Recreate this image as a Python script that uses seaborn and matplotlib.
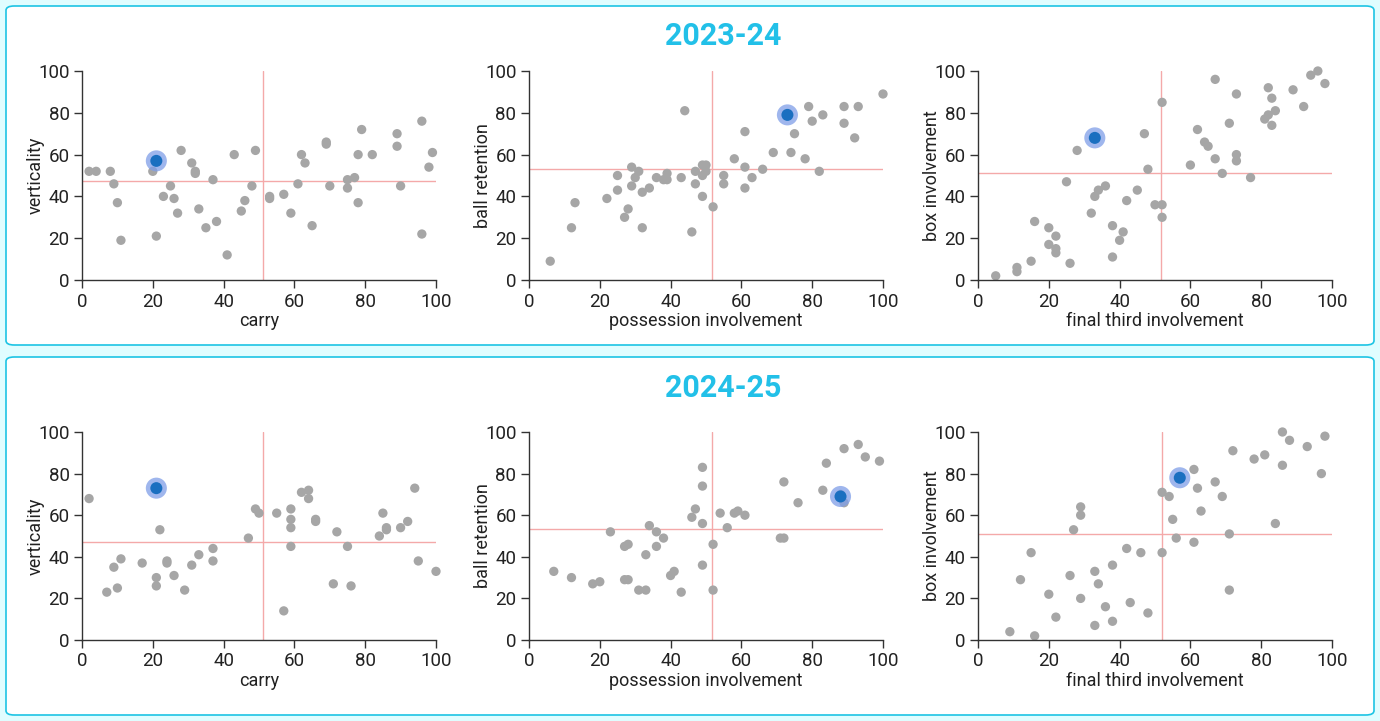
import matplotlib
matplotlib.use("Agg")
import matplotlib.pyplot as plt
import seaborn as sns
import pandas as pd
from matplotlib.patches import FancyBboxPatch

# ---- данные 2023-24 ----
carry_23 = [2, 4, 8, 9, 10, 11, 20, 21, 23, 25, 26, 27, 28, 31, 32, 32, 33, 35, 37, 38,
            41, 43, 45, 46, 48, 49, 53, 53, 57, 59, 61, 62, 63, 65, 69, 69, 70, 75, 75, 77,
            78, 78, 79, 82, 89, 89, 90, 96, 96, 98, 99]
vert_23 = [52, 52, 52, 46, 37, 19, 52, 21, 40, 45, 39, 32, 62, 56, 52, 51, 34, 25, 48, 28,
           12, 60, 33, 38, 45, 62, 40, 39, 41, 32, 46, 60, 56, 26, 66, 65, 45, 48, 44, 49,
           37, 60, 72, 60, 70, 64, 45, 76, 22, 54, 61]

poss_23 = [6, 12, 13, 22, 25, 25, 27, 28, 29, 29, 30, 31, 32, 32, 34, 36, 38, 39, 39, 43,
           44, 46, 47, 47, 49, 49, 49, 50, 50, 52, 55, 55, 58, 61, 61, 61, 63, 66, 69, 74,
           75, 78, 79, 80, 82, 83, 89, 89, 92, 93, 100]
ret_23 = [9, 25, 37, 39, 50, 43, 30, 34, 54, 45, 49, 52, 42, 25, 44, 49, 48, 51, 48, 49,
          81, 23, 52, 46, 55, 50, 40, 55, 52, 35, 50, 46, 58, 71, 54, 44, 49, 53, 61, 61,
          70, 58, 83, 76, 52, 79, 83, 75, 68, 83, 89]

final_23 = [5, 11, 11, 15, 16, 20, 20, 22, 22, 22, 25, 26, 28, 32, 33, 34, 36, 38, 38, 40,
            41, 42, 45, 47, 48, 50, 52, 52, 52, 60, 62, 64, 65, 67, 67, 69, 71, 73, 73, 73,
            77, 81, 82, 82, 83, 83, 84, 89, 92, 94, 96, 98]
box_23 = [2, 6, 4, 9, 28, 25, 17, 21, 15, 13, 47, 8, 62, 32, 40, 43, 45, 26, 11, 19,
          23, 38, 43, 70, 53, 36, 36, 30, 85, 55, 72, 66, 64, 96, 58, 51, 75, 89, 60, 57,
          49, 77, 79, 92, 87, 74, 81, 91, 83, 98, 100, 94]

# ---- данные 2024-25 ----
carry_24 = [2, 7, 9, 10, 11, 17, 21, 21, 22, 24, 24, 26, 29, 31, 33, 37, 37, 47, 49, 50,
            55, 57, 59, 59, 59, 59, 62, 64, 64, 66, 66, 71, 72, 75, 76, 84, 85, 86, 86, 90,
            92, 94, 95, 100]
vert_24 = [68, 23, 35, 25, 39, 37, 30, 26, 53, 38, 37, 31, 24, 36, 41, 44, 38, 49, 63, 61,
           61, 14, 63, 58, 54, 45, 71, 72, 68, 58, 57, 27, 52, 45, 26, 50, 61, 54, 53, 54,
           57, 73, 38, 33]

poss_24 = [7, 12, 18, 20, 23, 27, 28, 27, 28, 31, 33, 33, 34, 36, 36, 38, 40, 41, 43, 46,
           47, 49, 49, 49, 49, 52, 52, 54, 56, 58, 59, 61, 71, 72, 72, 76, 83, 84, 88, 89,
           89, 93, 95, 99]
ret_24 = [33, 30, 27, 28, 52, 45, 46, 29, 29, 24, 24, 41, 55, 52, 45, 49, 31, 33, 23, 59,
          63, 83, 74, 56, 36, 46, 24, 61, 54, 61, 62, 60, 49, 49, 76, 66, 72, 85, 70, 66,
          92, 94, 88, 86]

final_24 = [9, 12, 15, 16, 20, 22, 26, 27, 29, 29, 29, 33, 33, 34, 36, 38, 38, 42, 43, 46,
            48, 52, 52, 54, 55, 56, 61, 61, 62, 63, 67, 69, 71, 71, 72, 78, 81, 84, 86, 86,
            88, 93, 97, 98]
box_24 = [4, 29, 42, 2, 22, 11, 31, 53, 64, 60, 20, 33, 7, 27, 16, 36, 9, 44, 18, 42,
          13, 71, 42, 69, 58, 49, 82, 47, 73, 62, 76, 69, 51, 24, 91, 87, 89, 56, 100, 84,
          96, 93, 80, 98]

# выделенный игрок (x, y) для каждой панели
hl_23 = [(21, 57), (73, 79), (33, 68)]
hl_24 = [(21, 73), (88, 69), (57, 78)]

# средние линии (x, y)
ref_23 = [(51.1, 47.2), (51.7, 53.0), (51.6, 51.0)]
ref_24 = [(51.2, 46.9), (51.7, 53.3), (51.9, 51.2)]

seasons = ['2023-24', '2024-25']
x_labels = ['carry', 'possession involvement', 'final third involvement']
y_labels = ['verticality', 'ball retention', 'box involvement']

panels = {
    '2023-24': [(carry_23, vert_23), (poss_23, ret_23), (final_23, box_23)],
    '2024-25': [(carry_24, vert_24), (poss_24, ret_24), (final_24, box_24)],
}
highlights = {'2023-24': hl_23, '2024-25': hl_24}
refs = {'2023-24': ref_23, '2024-25': ref_24}

sns.set_style('white')
plt.rcParams['font.family'] = ['Roboto', 'DejaVu Sans']

W, H = 1380, 721
fig = plt.figure(figsize=(W / 100, H / 100), dpi=100, facecolor='#e0fdff')

# белые карточки для каждого сезона (под осями)
for top, bottom in [(6, 345), (357, 715)]:
    box = FancyBboxPatch((6 / W, 1 - bottom / H), (W - 12) / W, (bottom - top) / H,
                         boxstyle='round,pad=0,rounding_size=0.006',
                         transform=fig.transFigure, facecolor='white',
                         edgecolor='#1cc4e4', linewidth=1.2, zorder=-5)
    fig.patches.append(box)

axes_left = [82, 529, 978]
axes_w = 354
rows = {'2023-24': (71, 280, 36), '2024-25': (432, 640, 388)}

for season in seasons:
    y_top, y_bot, title_y = rows[season]
    fig.text(723 / W, 1 - title_y / H, season, ha='center', va='center',
             fontsize=22, fontweight='bold', color='#22c0e8')
    for i, left in enumerate(axes_left):
        ax = fig.add_axes([left / W, 1 - y_bot / H, axes_w / W, (y_bot - y_top) / H])
        ax.patch.set_alpha(0)
        xs, ys = panels[season][i]
        df = pd.DataFrame({'x': xs, 'y': ys})
        rx, ry = refs[season][i]
        ax.axvline(rx, color='#f4a9a9', lw=1, zorder=1)
        ax.axhline(ry, color='#f4a9a9', lw=1, zorder=1)
        sns.scatterplot(data=df, x='x', y='y', ax=ax, color='#a6a6a6', s=45,
                        edgecolor='none', zorder=2, clip_on=False)
        hx, hy = highlights[season][i]
        hdf = pd.DataFrame({'x': [hx], 'y': [hy]})
        sns.scatterplot(data=hdf, x='x', y='y', ax=ax, color='#7f9ee8', alpha=0.75,
                        s=230, edgecolor='none', zorder=3, clip_on=False)
        sns.scatterplot(data=hdf, x='x', y='y', ax=ax, color='#1a6fc0', s=75,
                        edgecolor='none', zorder=4, clip_on=False)
        ax.set_xlim(0, 100)
        ax.set_ylim(0, 100)
        ax.set_xticks(range(0, 101, 20))
        ax.set_yticks(range(0, 101, 20))
        sns.despine(ax=ax)
        for s in ['left', 'bottom']:
            ax.spines[s].set_color('#333333')
            ax.spines[s].set_linewidth(1)
        ax.tick_params(axis='both', length=6, width=1, color='#333333',
                       labelsize=13.5, labelcolor='#222222', pad=3, direction='out')
        ax.tick_params(left=True, bottom=True)
        ax.set_xlabel(x_labels[i], fontsize=13, color='#222222', labelpad=1)
        ax.set_ylabel(y_labels[i], fontsize=13, color='#222222')
        ax.yaxis.set_label_coords(-0.105, 0.5)
        ax.grid(False)

plt.savefig('out.png', dpi=100, facecolor=fig.get_facecolor())
plt.close()
